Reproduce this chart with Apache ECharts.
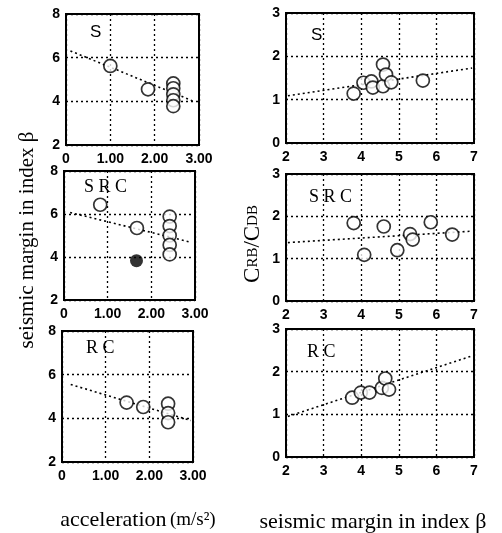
<!DOCTYPE html>
<html><head><meta charset="utf-8">
<script src="https://cdn.jsdelivr.net/npm/echarts@6/dist/echarts.min.js"></script>
<style>html,body{margin:0;padding:0;background:#fff}#c{width:502px;height:533px}</style>
</head><body><div id="c"></div>
<script>
// ---- data ----
const accelTickLabels = ['0', '1.00', '2.00', '3.00'];
const betaTickLabels = ['2', '3', '4', '5', '6', '7'];

// left column: acceleration (m/s2) vs seismic margin beta
const accS = [[1.0, 5.62], [1.85, 4.55], [2.42, 4.82], [2.42, 4.6], [2.42, 4.32], [2.42, 4.05], [2.42, 3.78]];
const accSTrend = [[0.1, 6.31], [2.88, 4.0]];
const accSRC = [[0.83, 6.43], [1.67, 5.35], [2.42, 5.88], [2.42, 5.44], [2.42, 5.0], [2.42, 4.56], [2.42, 4.12]];
const accSRCFilled = [[1.66, 3.83]];
const accSRCTrend = [[0.14, 6.07], [2.88, 4.7]];
const accRC = [[1.48, 4.72], [1.86, 4.52], [2.43, 4.67], [2.43, 4.24], [2.43, 3.82]];
const accRCTrend = [[0.2, 5.55], [2.95, 3.9]];

// right column: seismic margin beta vs CRB/CDB
const betaS = [[3.8, 1.14], [4.06, 1.39], [4.27, 1.42], [4.31, 1.28], [4.58, 1.31], [4.58, 1.81], [4.66, 1.58], [4.8, 1.4], [5.64, 1.44]];
const betaSTrend = [[2.05, 1.09], [6.95, 1.73]];
const betaSRC = [[3.8, 1.84], [4.08, 1.09], [4.6, 1.76], [4.96, 1.2], [5.3, 1.58], [5.37, 1.45], [5.85, 1.86], [6.42, 1.57]];
const betaSRCTrend = [[2.05, 1.38], [6.95, 1.65]];
const betaRC = [[3.76, 1.39], [3.99, 1.51], [4.22, 1.51], [4.55, 1.62], [4.64, 1.84], [4.74, 1.58]];
const betaRCTrend = [[2.05, 0.95], [6.95, 2.37]];

const panelNames = ['S', 'S R C', 'R C', 'S', 'S R C', 'R C'];

// ---- chart ----
const chart = echarts.init(document.getElementById('c'), null, {renderer: 'canvas'});
const grids = [
  {left: 66, top: 14, width: 133, height: 131},
  {left: 64, top: 171, width: 131, height: 129},
  {left: 62, top: 331, width: 131, height: 131},
  {left: 286, top: 13, width: 188, height: 130},
  {left: 286, top: 174, width: 188, height: 127},
  {left: 286, top: 329, width: 188, height: 128}
].map(g => Object.assign(g, {show: true, borderColor: '#000', borderWidth: 2, backgroundColor: '#fff'}));

const labelFont = {color: '#000', fontFamily: "'Liberation Sans Narrow', 'Liberation Sans', sans-serif", fontWeight: 'bold', fontSize: 14};
const split = {show: true, lineStyle: {color: '#000', type: [2, 3], width: 1.3}};

const xAxes = [], yAxes = [];
for (let i = 0; i < 6; i++) {
  const left = i < 3;
  xAxes.push({
    gridIndex: i, type: 'value',
    min: left ? 0 : 2, max: left ? 3 : 7, interval: 1,
    axisLine: {show: false}, axisTick: {show: false},
    splitLine: split,
    axisLabel: Object.assign({margin: 7, formatter: v => left ? accelTickLabels[Math.round(v)] : betaTickLabels[Math.round(v) - 2]}, labelFont)
  });
  yAxes.push({
    gridIndex: i, type: 'value',
    min: left ? 2 : 0, max: left ? 8 : 3, interval: left ? 2 : 1,
    axisLine: {show: false}, axisTick: {show: false},
    splitLine: split,
    axisLabel: Object.assign({margin: 6}, labelFont)
  });
}

const hollow = {color: '#fff', borderColor: '#000', borderWidth: 1.7};
function pts(data, i, filled) {
  return {type: 'scatter', xAxisIndex: i, yAxisIndex: i, data: data, symbol: 'circle', symbolSize: 13,
    itemStyle: filled ? {color: '#000'} : hollow, z: 5, silent: true};
}
function trend(data, i) {
  return {type: 'line', xAxisIndex: i, yAxisIndex: i, data: data, symbol: 'none',
    lineStyle: {color: '#000', type: [2, 3], width: 1.6}, z: 3, silent: true};
}

const series = [
  trend(accSTrend, 0), pts(accS, 0),
  trend(accSRCTrend, 1), pts(accSRC, 1), pts(accSRCFilled, 1, true),
  trend(accRCTrend, 2), pts(accRC, 2),
  trend(betaSTrend, 3), pts(betaS, 3),
  trend(betaSRCTrend, 4), pts(betaSRC, 4),
  trend(betaRCTrend, 5), pts(betaRC, 5)
];

const panelPos = [[90, 24], [84, 178], [86, 339], [311, 27], [309, 188], [307, 343]];
const serif = "'Liberation Serif', 'DejaVu Serif', serif";
const graphics = panelNames.map((t, i) => ({
  type: 'text', left: panelPos[i][0], top: panelPos[i][1], z: 10,
  style: {text: t, fill: '#000', font: (t === 'S' ? "17px 'Liberation Sans', sans-serif" : '18px ' + serif)}
}));
graphics.push(
  {type: 'text', x: 27, y: 240, rotation: Math.PI / 2, z: 10,
   style: {text: 'seismic margin in index β', fill: '#000', font: '21px ' + serif, align: 'center', verticalAlign: 'middle'}},
  {type: 'text', x: 253, y: 244, rotation: Math.PI / 2, z: 10,
   style: {text: '{b|C}{s|RB}{b|/C}{s|DB}', fill: '#000', align: 'center', verticalAlign: 'middle',
     rich: {b: {fontSize: 23, fontFamily: serif, fill: '#000'}, s: {fontSize: 15, fontFamily: serif, fill: '#000'}}}},
  {type: 'text', x: 138, y: 520, z: 10,
   style: {text: '{a|acceleration} {u|(m/s²)}', fill: '#000', align: 'center', verticalAlign: 'middle',
     rich: {a: {fontSize: 22, fontFamily: serif, fill: '#000'}, u: {fontSize: 19, fontFamily: serif, fill: '#000'}}}},
  {type: 'text', x: 373, y: 522, z: 10,
   style: {text: 'seismic margin in index β', fill: '#000', font: '22px ' + serif, align: 'center', verticalAlign: 'middle'}}
);

chart.setOption({
  animation: false,
  backgroundColor: '#fff',
  grid: grids, xAxis: xAxes, yAxis: yAxes, series: series, graphic: graphics
});
</script></body></html>
